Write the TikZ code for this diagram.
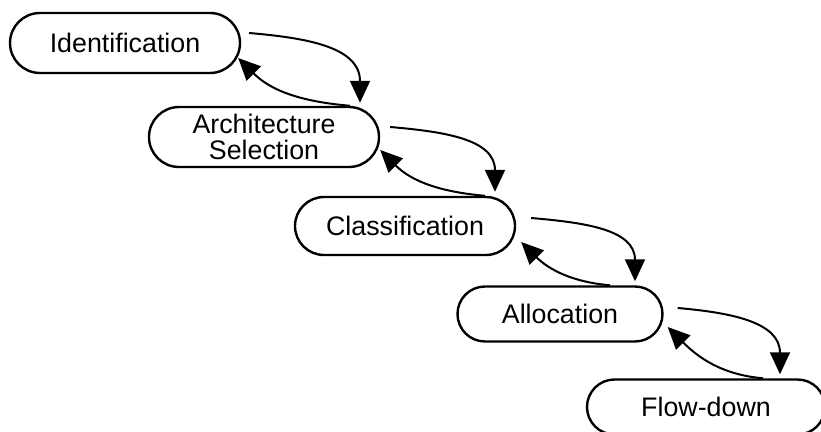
\documentclass[tikz,border=0pt]{standalone}
\usepackage{fontspec}
\setmainfont{Liberation Sans}
\usepackage{tikz}
\usetikzlibrary{positioning,calc,shapes.misc,arrows.meta}
\tikzstyle{line} = [draw,line width=1pt]

\begin{document}
\begin{tikzpicture}[x=0.5pt,y=0.5pt,
            phase/.style = {rounded rectangle, draw, line width=1.2pt,
              inner sep=0pt, align=center,
              font=\fontsize{13.4pt}{12.6pt}\selectfont},
            fwd/.style = {line, -{Triangle[length=11pt,width=10pt]}}]
            \useasboundingbox (0,0) rectangle (821,-432);
            \node[phase, minimum width=115pt, minimum height=30pt] (node1) at (125,-43) {Identification};
            \node[phase, minimum width=115pt, minimum height=30pt] (node2) at (264,-137) {Architecture\\Selection};
            \node[phase, minimum width=110pt, minimum height=29pt] (node3) at (405,-226) {Classification};
            \node[phase, minimum width=102.5pt, minimum height=27.5pt] (node4) at (560,-314) {Allocation};
            \node[phase, minimum width=119pt, minimum height=27.5pt] (node5) at (706,-407) {Flow-down};
            % forward arrows
            \path [fwd] ([shift={(4pt,5pt)}]node1.east) to[out=-5,in=90,looseness=1.1] ([shift={(48pt,1.5pt)}]node2.north);
            \path [fwd] ([shift={(5pt,5pt)}]node2.east) to[out=-5,in=90,looseness=1.1] ([shift={(45pt,2pt)}]node3.north);
            \path [fwd] ([shift={(7.5pt,4pt)}]node3.east) to[out=-5,in=90,looseness=1.1] ([shift={(37.5pt,2pt)}]node4.north);
            \path [fwd] ([shift={(7pt,3pt)}]node4.east) to[out=-5,in=90,looseness=1.1] ([shift={(37pt,2pt)}]node5.north);
            % backward arrows
            \path [fwd] ([xshift=43pt]node2.north) to[out=175,in=-45] ([shift={(-1.5pt,-7.5pt)}]node1.east);
            \path [fwd] ([xshift=40pt]node3.north) to[out=175,in=-45] ([shift={(0pt,-6.5pt)}]node2.east);
            \path [fwd] ([xshift=25pt]node4.north) to[out=175,in=-45] ([shift={(2.5pt,-8pt)}]node3.east);
            \path [fwd] ([xshift=28.5pt]node5.north) to[out=175,in=-45] ([shift={(2pt,-6.5pt)}]node4.east);
\end{tikzpicture}
\end{document}
